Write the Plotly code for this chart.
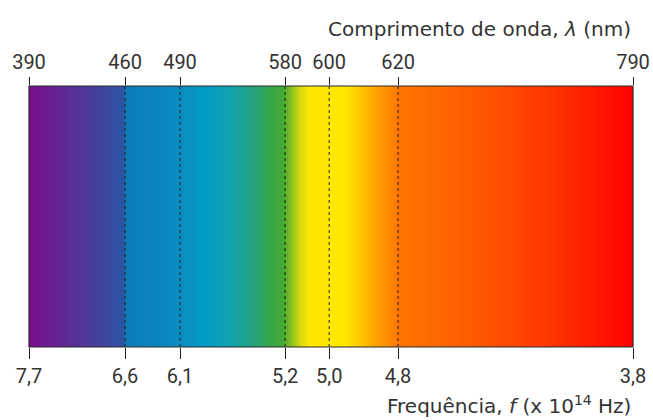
import numpy as np
import plotly.graph_objects as go

# spectrum bands (schematic, not to scale)
wavelength_nm = ["390", "460", "490", "580", "600", "620", "790"]
frequency_1e14 = ["7,7", "6,6", "6,1", "5,2", "5,0", "4,8", "3,8"]
band_pos = [0.0, 0.159, 0.25, 0.424, 0.497, 0.611, 1.0]

# colour stops along the strip
stop_pos = [0.0, 0.051, 0.118, 0.156, 0.161, 0.25, 0.291, 0.333, 0.366, 0.399,
            0.422, 0.435, 0.449, 0.465, 0.523, 0.548, 0.573, 0.601, 0.614,
            0.697, 0.78, 0.879, 1.0]
stop_col = ["#7a0e8e", "#622592", "#40449c", "#2c55a4", "#0b7db6", "#0a8cc0",
            "#009dc4", "#12a2b0", "#22a185", "#36a64c", "#46aa32", "#8cc020",
            "#d4d810", "#ffe600", "#ffe800", "#ffc800", "#ffa400", "#ff8400",
            "#ff7400", "#ff6400", "#ff4e00", "#ff3000", "#ff0000"]

grid = np.linspace(0, 1, 604)

fig = go.Figure()
fig.add_trace(go.Heatmap(
    x=grid, y=[0, 1], z=[grid, grid],
    colorscale=list(zip(stop_pos, stop_col)),
    zmin=0, zmax=1, showscale=False, hoverinfo="skip"))
# invisible trace to attach the top axis
fig.add_trace(go.Scatter(x=[0, 1], y=[0, 0], xaxis="x2", mode="markers",
                         marker=dict(opacity=0), showlegend=False, hoverinfo="skip"))

# dotted separators
for p in band_pos[1:-1]:
    fig.add_shape(type="line", x0=p, x1=p, y0=0, y1=1, xref="x", yref="y",
                  line=dict(color="rgba(40,30,40,0.85)", width=1.2, dash="dot"))
fig.add_shape(type="rect", x0=0, x1=1, y0=0, y1=1, xref="paper", yref="paper",
              line=dict(color="#2a2a2a", width=1.2))

tickfont = dict(family="Roboto", size=20, color="#333333")
titlefont = dict(family="DejaVu Sans", size=20, color="#333333")
fig.update_layout(
    width=653, height=420,
    margin=dict(l=29, r=20, t=86, b=73, autoexpand=False),
    paper_bgcolor="white", plot_bgcolor="white",
    showlegend=False,
    xaxis=dict(range=[0, 1], tickvals=band_pos, ticktext=frequency_1e14,
               ticks="outside", ticklen=11, tickwidth=1.3, tickcolor="#222",
               showgrid=False, zeroline=False, showline=False, automargin=False,
               tickfont=tickfont, ticklabelstandoff=0),
    xaxis2=dict(range=[0, 1], tickvals=band_pos, ticktext=wavelength_nm,
                overlaying="x", side="top", anchor="y",
                ticks="outside", ticklen=8, tickwidth=1.3, tickcolor="#222",
                showgrid=False, zeroline=False, showline=False, automargin=False,
                tickfont=tickfont, ticklabelstandoff=0),
    yaxis=dict(range=[0, 1], visible=False, fixedrange=True, automargin=False),
)

fig.add_annotation(text="Comprimento de onda, <i>λ</i> (nm)", xref="paper", yref="paper",
                   x=1.0, y=1, yshift=57, xanchor="right", yanchor="middle",
                   showarrow=False, font=titlefont)
fig.add_annotation(text="Frequência, <i>f</i> (x 10<sup>14</sup> Hz)", xref="paper", yref="paper",
                   x=1.0, y=0, yshift=-58, xanchor="right", yanchor="middle",
                   showarrow=False, font=titlefont)

# page has a default body margin; drop it so the figure sits at the window origin
fig.write_html("out.html", config={"displayModeBar": False},
               post_script="document.body.style.margin='0';")
